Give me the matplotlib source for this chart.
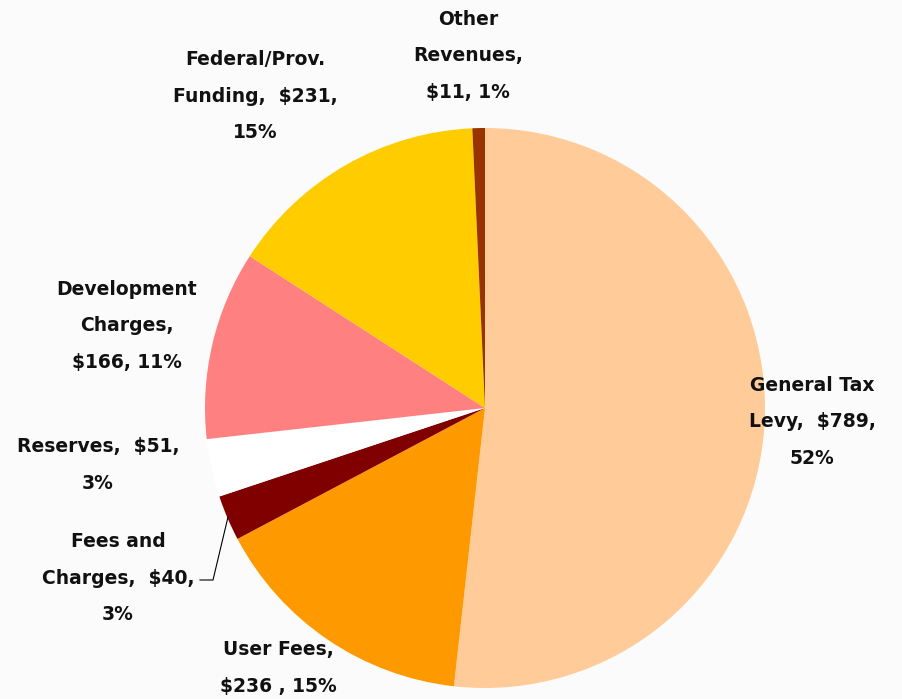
import matplotlib
matplotlib.use("Agg")
import matplotlib.pyplot as plt

# data
categorias = ["General Tax Levy", "User Fees", "Fees and Charges", "Reserves",
              "Development Charges", "Federal/Prov. Funding", "Other Revenues"]
valores = [789, 236, 40, 51, 166, 231, 11]
colores = ["#FFCC99", "#FF9900", "#800000", "#FFFFFF", "#FF8080", "#FFCC00", "#993300"]
etiquetas = ["General Tax\nLevy,  $789,\n52%",
             "User Fees,\n$236 , 15%",
             "Fees and\nCharges,  $40,\n3%",
             "Reserves,  $51,\n3%",
             "Development\nCharges,\n$166, 11%",
             "Federal/Prov.\nFunding,  $231,\n15%",
             "Other\nRevenues,\n$11, 1%"]

W, H = 903, 699
fig = plt.figure(figsize=(W / 100, H / 100), dpi=100)
fig.patch.set_facecolor("#fbfbfb")
ax = fig.add_axes([0, 0, 1, 1])

cx, cy, r = 485, H - 408, 280
ax.pie(valores, colors=colores, startangle=90, counterclock=False,
       center=(cx, cy), radius=r, frame=True,
       wedgeprops=dict(linewidth=0))
ax.set_xlim(0, W)
ax.set_ylim(0, H)
ax.set_aspect("equal")
ax.axis("off")

# posiciones de las etiquetas (pixeles desde arriba a la izquierda)
pos = [(812, 422), (278, 668), (118, 578), (98, 465), (127, 326), (255, 96), (468, 56)]
for txt, (x, y) in zip(etiquetas, pos):
    ax.text(x, H - y, txt, ha="center", va="center", fontsize=13.5,
            family="DejaVu Sans", fontweight="bold",
            linespacing=2.15, color="#111111")

# linea guia de Fees and Charges
ax.plot([200, 213, 228], [H - 580, H - 580, H - 517], color="black", lw=0.8)

fig.savefig("out.png", dpi=100, facecolor=fig.get_facecolor())
